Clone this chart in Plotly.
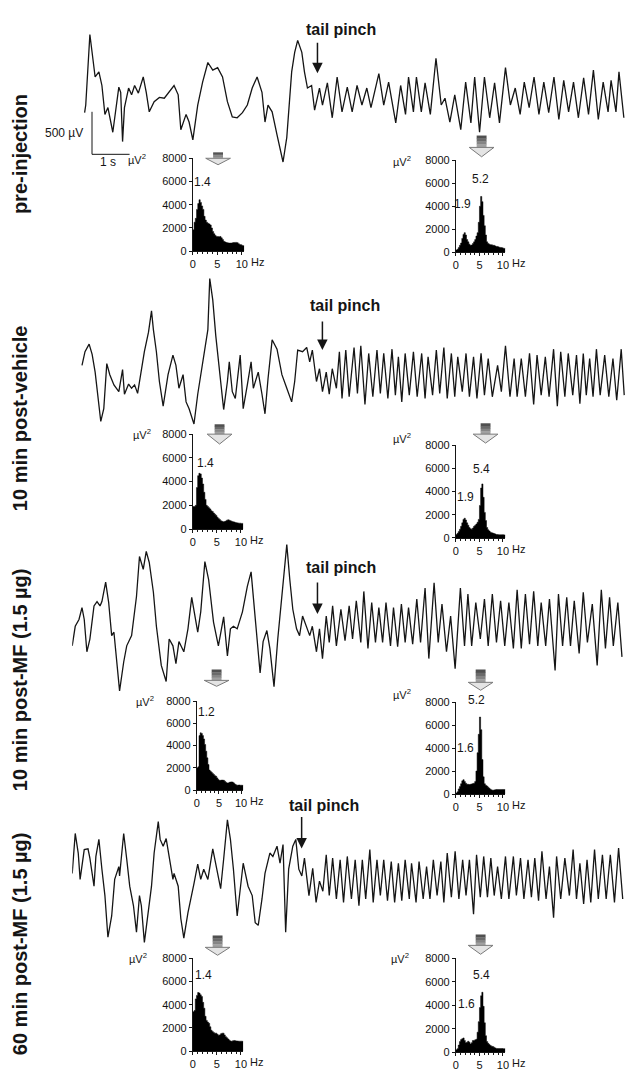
import plotly.graph_objects as go

# ======================= DATA =======================
panel_titles = ["pre-injection", "10 min post-vehicle",
                "10 min post-MF (1.5 µg)", "60 min post-MF (1.5 µg)"]
event_label = "tail pinch"

# EEG traces: time (s) and potential (µV), successive turning points
eeg1_t = [0.33,0.36,0.47,0.53,0.61,0.71,0.79,0.87,0.95,1.08,1.13,1.24,1.29,1.34,1.39,1.50,1.58,1.66,1.76,1.89,
          1.97,2.05,2.18,2.32,2.45,2.58,2.71,2.82,2.89,3.03,3.11,3.21,3.34,3.47,3.61,3.74,3.87,4.00,4.13,4.26,
          4.39,4.53,4.66,4.79,4.92,5.05,5.13,5.21,5.32,5.45,5.61,5.71,5.84,5.92,6.00,6.11,6.18,6.26,6.37,6.45,
          6.58,6.66,6.79,6.92,7.05,7.18,7.32,7.45,7.58,7.71,7.84,7.95,8.16,8.29,8.42,8.61,8.74,8.87,8.95,9.08,
          9.16,9.29,9.39,9.53,9.68,9.82,9.92,10.05,10.18,10.34,10.47,10.61,10.71,10.84,10.97,11.11,11.24,11.37,11.53,11.66,
          11.79,11.92,12.03,12.16,12.29,12.42,12.55,12.68,12.82,12.95,13.08,13.21,13.34,13.47,13.61,13.74,13.87,14.00,14.13,14.26,
          14.34,14.47,14.55,14.68]
eeg1_v = [-150,-60,770,520,270,330,170,-170,-90,-380,-210,150,90,-490,-90,140,60,170,80,270,
          90,-140,-20,30,20,90,170,60,-350,-170,-260,-470,-60,210,440,350,380,270,-20,-200,
          -210,-150,-60,140,270,90,-260,-60,-140,-410,-730,-440,330,560,700,560,330,140,170,-120,
          140,-60,200,-210,270,-140,150,-140,170,-60,140,-90,310,-60,210,-270,170,-170,270,-140,
          270,-140,200,-170,490,-60,20,-260,60,-350,210,-270,270,-380,270,-210,200,-270,380,-60,
          140,-170,210,-90,270,-170,210,-150,270,-230,230,-140,210,-210,260,-170,350,-230,210,-140,
          230,-140,330,-210]

eeg2_t = [0.26,0.31,0.34,0.45,0.53,0.61,0.71,0.76,0.84,0.92,1.00,1.11,1.24,1.34,1.39,1.50,1.58,1.66,1.74,1.84,
          1.92,2.03,2.11,2.16,2.24,2.32,2.42,2.55,2.68,2.76,2.84,2.95,3.03,3.11,3.24,3.34,3.42,3.50,3.61,3.66,
          3.74,3.82,3.89,4.00,4.03,4.13,4.18,4.26,4.34,4.47,4.55,4.66,4.76,4.82,4.95,5.05,5.13,5.21,5.32,5.45,
          5.58,5.71,5.84,5.92,6.00,6.13,6.24,6.32,6.39,6.50,6.58,6.66,6.76,6.84,6.92,7.03,7.11,7.18,
          7.28,7.37,7.50,7.59,7.68,7.79,7.89,8.00,8.11,8.20,8.29,8.40,8.51,8.60,8.68,8.77,8.86,8.97,9.08,9.18,
          9.30,9.39,9.47,9.59,9.69,9.78,9.89,9.98,10.09,10.18,10.26,10.38,10.48,10.57,10.68,10.77,10.88,10.97,11.07,11.18,
          11.32,11.42,11.53,11.65,11.76,11.84,11.95,12.06,12.17,12.28,12.37,12.48,12.59,12.69,12.81,12.91,13.00,13.11,13.20,13.32,
          13.42,13.51,13.60,13.68,13.77,13.86,13.95,14.05,14.17,14.28,14.39,14.49,14.61,14.69]
eeg2_v = [100,200,260,350,230,20,-330,-560,-410,120,-10,-130,-210,50,-240,-120,-170,-130,-230,60,
          260,490,740,520,260,-90,-380,-10,220,100,-170,-10,-330,-410,-590,-240,-10,170,520,1120,
          870,450,140,-330,-420,-90,140,-210,-290,220,-410,-130,140,-170,20,-240,-470,-60,400,290,
          -10,-170,-330,-90,280,260,310,140,280,-90,60,-210,20,-240,60,-170,260,-290,
          280,-270,310,-230,330,-360,240,-270,280,-230,240,-290,290,-250,200,-330,240,-250,260,-270,
          240,-290,200,-250,280,-230,310,-290,240,-270,200,-210,240,-270,200,-290,240,-250,180,-270,
          100,-210,330,-270,180,-270,180,-270,240,-360,220,-250,200,-270,290,-380,260,-270,240,-250,
          220,-350,240,-250,180,-270,290,-250,220,-270,180,-310,290,-250]

eeg3_t = [0.00,0.08,0.18,0.26,0.32,0.39,0.47,0.58,0.66,0.74,0.79,0.89,0.97,1.05,1.11,1.18,1.26,1.37,1.45,1.58,
          1.71,1.79,1.89,1.97,2.05,2.16,2.24,2.37,2.50,2.58,2.68,2.76,2.84,2.97,3.08,3.18,3.24,3.34,3.42,3.53,
          3.63,3.76,3.89,4.03,4.13,4.21,4.29,4.39,4.53,4.66,4.76,4.82,4.92,5.00,5.08,5.18,5.26,5.37,5.47,5.58,
          5.71,5.79,5.87,5.97,6.05,6.13,6.24,6.32,6.39,6.50,6.58,6.66,
          6.76,6.84,6.93,7.03,7.15,7.26,7.37,7.46,7.56,7.68,7.76,7.87,7.97,8.07,8.16,8.26,8.35,8.47,8.55,8.66,
          8.76,8.86,8.95,9.06,9.17,9.27,9.39,9.49,9.63,9.74,9.84,9.96,10.07,10.19,10.33,10.44,10.53,10.63,10.74,10.86,
          10.97,11.07,11.18,11.29,11.40,11.51,11.62,11.74,11.84,11.95,12.06,12.17,12.28,12.39,12.48,12.60,12.70,12.85,12.94,13.05,
          13.16,13.26,13.36,13.49,13.60,13.71,13.84,13.97,14.08,14.19,14.30,14.40,14.52,14.63]
eeg3_v = [-280,-50,30,170,30,-350,-200,190,240,190,240,470,230,-160,-120,-470,-810,-470,-280,-160,
          300,770,620,830,700,350,-50,-510,-700,-200,-280,-490,-230,-350,-80,290,150,-120,120,710,
          500,0,-280,60,-400,-80,-50,-80,120,420,590,300,-230,-600,-230,-100,-310,-760,-200,300,
          910,500,150,-80,-160,70,-50,-160,-50,-350,-80,-430,
          70,-240,190,-280,150,-220,190,-200,250,-240,360,-310,230,-240,170,-240,230,-280,170,-290,
          210,-240,170,-260,270,-240,400,-430,460,-240,210,-350,70,-550,400,-280,330,-280,230,-200,
          270,-280,330,-240,250,-280,230,-310,380,-310,330,-260,360,-280,230,-280,270,-570,330,-280,
          290,-280,250,-370,350,-240,210,-510,380,-310,290,-280,230,-410]

eeg4_t = [0.00,0.03,0.08,0.16,0.21,0.32,0.42,0.47,0.58,0.63,0.71,0.79,0.87,0.95,1.05,1.13,1.24,1.26,1.37,1.45,
          1.53,1.63,1.71,1.79,1.84,1.92,2.03,2.11,2.18,2.29,2.34,2.42,2.50,2.58,2.68,2.71,2.82,2.89,2.97,3.08,
          3.16,3.24,3.34,3.42,3.50,3.61,3.74,3.82,3.95,4.03,4.13,4.21,4.29,4.39,4.47,4.55,4.68,4.79,4.87,4.95,
          5.05,5.13,5.26,5.34,5.45,5.53,5.61,5.68,5.76,5.87,5.95,6.03,6.11,
          6.18,6.30,6.40,6.49,6.58,6.67,6.76,6.84,6.93,7.03,7.13,7.22,7.32,7.43,7.53,7.63,7.72,7.81,7.92,8.01,
          8.11,8.20,8.29,8.39,8.49,8.58,8.68,8.77,8.86,8.97,9.03,9.15,9.23,9.34,9.43,9.52,9.61,9.71,9.81,9.89,
          9.98,10.09,10.19,10.29,10.39,10.48,10.57,10.68,10.76,10.86,10.95,11.05,11.14,11.23,11.32,11.42,11.53,11.62,11.74,11.82,
          11.93,12.02,12.13,12.22,12.31,12.41,12.50,12.61,12.70,12.81,12.89,13.00,13.11,13.23,13.33,13.42,13.51,13.61,13.70,13.80,
          13.90,14.00,14.11,14.21,14.32,14.43,14.54,14.65]
eeg4_v = [90,290,560,330,20,370,380,270,-60,290,490,140,-170,-660,-410,20,170,60,560,260,
          -60,-290,-600,-170,-290,-720,-370,-60,330,700,490,410,500,290,20,90,-60,-440,-670,-370,
          -210,-30,200,20,140,20,380,210,-90,260,720,490,140,-410,-60,210,-60,-170,-490,-520,
          -210,90,330,290,410,210,430,-600,140,410,490,140,60,
          270,-170,150,-250,0,-120,310,-170,270,-210,250,-250,290,-210,250,-290,250,-210,370,-250,
          250,-170,250,-230,230,-250,210,-230,250,-210,210,-250,230,-210,170,-210,250,-170,230,-250,
          330,-190,350,-210,250,-170,250,-390,310,-190,290,-190,270,-170,170,-210,290,-210,290,-170,
          270,-210,250,-190,270,-230,350,-210,170,-430,290,-210,270,-170,370,-210,210,-270,250,-250,
          370,-210,310,-210,310,-250,390,-210]

# power spectra: bin start frequency (Hz, 0.25 Hz bins) and power (µV²)
psd_freq = [0.0,0.25,0.5,0.75,1.0,1.25,1.5,1.75,2.0,2.25,2.5,2.75,3.0,3.25,3.5,3.75,4.0,4.25,4.5,4.75,
            5.0,5.25,5.5,5.75,6.0,6.25,6.5,6.75,7.0,7.25,7.5,7.75,8.0,8.25,8.5,8.75,9.0,9.25,9.5,9.75,
            10.0,10.25]
psd_f_end = 10.5
psd_pre_base = [1840,2500,2830,3600,4100,4430,4200,3900,3600,3000,2680,2500,2400,2350,2260,2000,1700,1500,1350,1270,
                1270,1250,1270,1150,1000,850,800,750,720,700,700,700,720,750,760,760,740,650,570,560,500,480]
psd_pre_pinch = [200,250,400,600,800,1200,1550,1700,1500,1100,900,700,600,620,750,900,1100,1400,1700,2600,
                 4000,4850,4400,3200,2300,1500,900,750,700,650,650,600,600,550,500,500,450,420,400,380,350,330]
psd_veh_base = [1900,1900,2000,3500,4500,4700,4650,4300,3800,3100,2500,2000,1900,1800,1700,1550,1480,1350,1250,1150,
                1000,900,800,700,650,620,640,680,750,780,750,700,650,620,600,560,540,520,500,500,480,480]
psd_veh_pinch = [300,400,550,750,1000,1300,1600,1700,1550,1300,1100,900,800,760,850,1000,1100,1200,1350,1600,
                 2800,4300,4650,3500,2200,1500,900,700,600,500,450,420,380,350,300,300,280,280,280,280,270,260]
psd_mf10_base = [2000,2100,4900,5150,5100,4900,4600,4100,3500,2900,2300,1800,1700,1600,1500,1400,1300,1240,1100,950,
                 880,880,900,900,880,800,700,650,650,700,720,740,720,650,550,480,440,450,460,440,440,430]
psd_mf10_pinch = [100,200,450,650,900,1150,1250,1100,950,860,850,830,850,880,910,950,1100,2000,3600,5200,
                  6700,5600,3000,1500,900,770,700,600,500,420,360,340,350,380,400,400,400,400,400,400,400,400]
psd_mf60_base = [3400,3500,4500,4800,5050,5000,4850,4700,4200,3700,3000,2650,2500,2400,2100,1800,1700,1600,1550,1550,
                 1450,1380,1400,1500,1550,1550,1400,1250,1150,1050,950,870,850,900,920,900,880,870,860,860,860,850]
psd_mf60_pinch = [200,300,600,900,1070,1150,1210,1000,800,850,930,850,700,800,990,1000,1050,1100,1700,2600,
                  3800,4800,5100,3900,2500,1400,900,750,650,560,510,480,420,360,320,310,310,310,310,310,300,300]

peak_labels_base = [["1.4"], ["1.4"], ["1.2"], ["1.4"]]
peak_labels_pinch = [["5.2", "1.9"], ["5.4", "1.9"], ["5.2", "1.6"], ["5.4", "1.6"]]

psd_yticks = [0, 2000, 4000, 6000, 8000]
psd_xticks = [0, 5, 10]
psd_xticktext = ["0", "5", "10"]
scale_s = 1.0
scale_uv = 500

# ======================= LAYOUT CONSTANTS (pixels) =======================
W, H = 629, 1072
FONT = "Liberation Sans, Arial, Helvetica, sans-serif"
INK = "#151515"
PX_PER_S = 38.0
PX_PER_UV = 43.0 / 500.0
T0_PX = 70

PANELS = [
    dict(yc=95, hh=95, title_y=150, pinch_txt=(342, 24), pinch_arr=(318, 36, 68),
         hl=(192, 244, 154, 248), hr=(458, 508, 156, 249),
         al=(217.5, 148, 154, 160.5), ar=(484, 131, 143, 152.5),
         lab_l=[(202, 178)], lab_r=[(483, 175), (465, 200)],
         uv_l=(147, 155), uv_r=(415, 157)),
    dict(yc=372, hh=110, title_y=417, pinch_txt=(346, 303), pinch_arr=(323, 318, 348),
         hl=(192, 243, 433, 529), hr=(458, 508, 444, 538),
         al=(219, 423, 433, 443), ar=(488, 422, 433, 442),
         lab_l=[(205, 462)], lab_r=[(484, 468), (468, 497)],
         uv_l=(152, 433), uv_r=(415, 437)),
    dict(yc=623, hh=110, title_y=681, pinch_txt=(342, 568), pinch_arr=(318, 582, 615),
         hl=(196, 243, 703, 793), hr=(458, 508, 704, 797),
         al=(216, 671, 682, 688), ar=(483, 671, 684, 692),
         lab_l=[(206, 714)], lab_r=[(479, 702), (468, 750)],
         uv_l=(155, 703), uv_r=(415, 696)),
    dict(yc=885, hh=100, title_y=948, pinch_txt=(325, 809), pinch_arr=(302, 819, 852),
         hl=(192, 243, 963, 1057), hr=(458, 508, 963, 1058),
         al=(217, 940, 952, 960), ar=(483, 939, 950, 959),
         lab_l=[(202.5, 980)], lab_r=[(484, 980), (469, 1009)],
         uv_l=(148, 963), uv_r=(413, 963)),
]
SCALEBAR_ORIGIN_PX = (90, 150)


def xp(x):
    return x / W


def yp(y):
    return 1 - y / H


def akey(c, n):
    return f"{c}axis" if n == 1 else f"{c}axis{n}"


def aref(c, n):
    return c if n == 1 else f"{c}{n}"


eeg = [(eeg1_t, eeg1_v), (eeg2_t, eeg2_v), (eeg3_t, eeg3_v), (eeg4_t, eeg4_v)]
psd = [(psd_pre_base, psd_pre_pinch), (psd_veh_base, psd_veh_pinch),
       (psd_mf10_base, psd_mf10_pinch), (psd_mf60_base, psd_mf60_pinch)]

fig = go.Figure()
layout = {}
ann = []
shapes = []


def text(x, y, s, size=12, bold=False, xanchor="center", yanchor="middle", angle=0):
    ann.append(dict(x=xp(x), y=yp(y), xref="paper", yref="paper", text=(f"<b>{s}</b>" if bold else s),
                    showarrow=False, xanchor=xanchor, yanchor=yanchor, textangle=angle,
                    font=dict(family=FONT, size=size, color=INK)))


def block_arrow(cx, top, mid, bot, hw=25, sw=10):
    greys = ["#505050", "#6a6a6a", "#858585", "#a0a0a0"]
    step = (mid - top) / len(greys)
    for k, g in enumerate(greys):
        shapes.append(dict(type="rect", xref="paper", yref="paper",
                           x0=xp(cx - sw / 2), x1=xp(cx + sw / 2),
                           y0=yp(top + (k + 1) * step + 0.3), y1=yp(top + k * step),
                           fillcolor=g, line=dict(width=0)))
    path = (f"M {xp(cx - hw / 2)},{yp(mid)} L {xp(cx + hw / 2)},{yp(mid)} "
            f"L {xp(cx)},{yp(bot)} Z")
    shapes.append(dict(type="path", xref="paper", yref="paper", path=path,
                       fillcolor="#e4e4e4", line=dict(color="#7a7a7a", width=1)))


def psd_axes(n, box, vals):
    x0, x1, ytop, ybot = box
    fig.add_trace(go.Scatter(x=psd_freq + [psd_f_end], y=vals + [vals[-1]], mode="lines",
                             line=dict(shape="hv", color="black", width=0.5),
                             fill="tozeroy", fillcolor="black",
                             xaxis=aref("x", n), yaxis=aref("y", n), hoverinfo="skip"))
    common = dict(showline=True, linecolor=INK, linewidth=1, ticks="outside", ticklen=3,
                  tickwidth=1, tickcolor=INK, showgrid=False, zeroline=False, fixedrange=True,
                  tickfont=dict(family=FONT, size=11, color="#111111"))
    layout[akey("x", n)] = dict(domain=[xp(x0), xp(x1)], range=[0, psd_f_end], anchor=aref("y", n),
                                tickmode="array", tickvals=psd_xticks, ticktext=psd_xticktext,
                                minor=dict(tickmode="linear", tick0=0, dtick=1, ticks="outside",
                                           ticklen=2, tickcolor=INK),
                                **common)
    layout[akey("y", n)] = dict(domain=[yp(ybot), yp(ytop)], range=[0, 8000], anchor=aref("x", n),
                                tickmode="array", tickvals=psd_yticks, **common)
    # "Hz" after the 10 tick
    text(x0 + (10 / psd_f_end) * (x1 - x0) + 7, ybot + 11, "Hz", size=11, xanchor="left")


for i, p in enumerate(PANELS):
    n = i + 1
    t, v = eeg[i]
    fig.add_trace(go.Scatter(x=t, y=v, mode="lines", line=dict(color=INK, width=1.3),
                             xaxis=aref("x", n), yaxis=aref("y", n), hoverinfo="skip"))
    half_uv = p["hh"] / PX_PER_UV
    layout[akey("x", n)] = dict(domain=[xp(T0_PX), 1], range=[0, (W - T0_PX) / PX_PER_S],
                                visible=False, fixedrange=True)
    layout[akey("y", n)] = dict(domain=[yp(p["yc"] + p["hh"]), yp(p["yc"] - p["hh"])],
                                range=[-half_uv, half_uv], visible=False, fixedrange=True)

    # panel title (rotated)
    text(18, p["title_y"], panel_titles[i], size=20, bold=True, angle=-90)

    # tail pinch marker
    tx, ty = p["pinch_txt"]
    text(tx, ty, event_label, size=16, bold=True)
    ax_x, a0, a1 = p["pinch_arr"]
    ann.append(dict(x=xp(ax_x), y=yp(a1), xref="paper", yref="paper", text="",
                    showarrow=True, ax=0, ay=-(a1 - a0), arrowhead=2, arrowsize=1.4,
                    arrowwidth=1.5, arrowcolor=INK, standoff=0))

    # spectra
    base, pinch = psd[i]
    nl, nr = 5 + 2 * i, 6 + 2 * i
    psd_axes(nl, p["hl"], base)
    psd_axes(nr, p["hr"], pinch)
    block_arrow(*p["al"])
    block_arrow(*p["ar"])
    for (lx, ly), s in zip(p["lab_l"], peak_labels_base[i]):
        text(lx, ly, s, size=12)
    for (lx, ly), s in zip(p["lab_r"], peak_labels_pinch[i]):
        text(lx, ly, s, size=12)
    text(p["uv_l"][0], p["uv_l"][1], "µV<sup>2</sup>", size=11, xanchor="right")
    text(p["uv_r"][0], p["uv_r"][1], "µV<sup>2</sup>", size=11, xanchor="right")

# calibration bar in the first trace's axes
sb_t0 = (SCALEBAR_ORIGIN_PX[0] - T0_PX) / PX_PER_S
sb_v0 = (PANELS[0]["yc"] - SCALEBAR_ORIGIN_PX[1]) / PX_PER_UV
fig.add_trace(go.Scatter(x=[sb_t0, sb_t0, sb_t0 + scale_s], y=[sb_v0 + scale_uv, sb_v0, sb_v0],
                         mode="lines", line=dict(color=INK, width=1), xaxis="x", yaxis="y",
                         hoverinfo="skip"))
text(83, 128, "500 µV", size=12, xanchor="right")
text(106, 158, "1 s", size=12)

fig.update_layout(width=W, height=H, margin=dict(l=0, r=0, t=0, b=0), autosize=False,
                  paper_bgcolor="white", plot_bgcolor="rgba(0,0,0,0)", showlegend=False,
                  hovermode=False, annotations=ann, shapes=shapes, **layout)

fig.write_html("out.html", config={"displayModeBar": False, "staticPlot": True},
               post_script="document.body.style.margin='0';")
